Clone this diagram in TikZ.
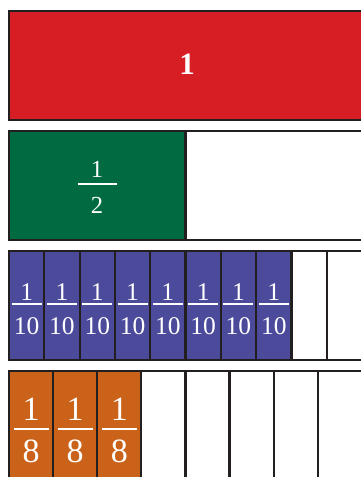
\documentclass[tikz,border=0pt]{standalone}
\usepackage{fontspec}
\setmainfont{Liberation Serif}
\usepackage{tikz}
\definecolor{edge}{HTML}{231F20}
\definecolor{wholered}{HTML}{D71E24}
\definecolor{halfgreen}{HTML}{006B41}
\definecolor{tenthblue}{HTML}{4B4A9B}
\definecolor{eighthorange}{HTML}{CB6219}

\begin{document}
\begin{tikzpicture}[x=1pt, y=-1pt,
  piece/.style={rectangle, draw=edge, line width=2.2pt, fill=#1, anchor=north west, outer sep=0pt, inner sep=0pt, minimum height=109pt},
  fracbar/.style={draw=white, line width=2pt},
  digit/.style={text=white, inner sep=0pt, anchor=base},
]
  \useasboundingbox (0,0) rectangle (361,477);
  \clip (0,0) rectangle (361,477);

  % Whole strip
  \node[piece=wholered, minimum width=353pt] (whole) at (9,11) {};
  \node[digit, anchor=center, font=\fontsize{31}{36}\selectfont\bfseries] (one) at (187,64.7) {1};

  % Halves
  \node[piece=halfgreen, minimum width=176.5pt] (h1) at (9,131) {};
  \node[piece=white, minimum width=176.5pt] (h2) at (h1.north east) {};
  \draw[fracbar] (77.5,184.3) -- (116.5,184.3);
  \node[digit, font=\fontsize{24.5}{28}\selectfont] (h1num) at (97,177.5) {1};
  \node[digit, font=\fontsize{24.5}{28}\selectfont] (h1den) at (97,213.5) {2};

  % Tenths
  \foreach \i in {1,...,8} {
    \pgfmathsetmacro{\cx}{9+35.3*(\i-0.5)}
    \node[piece=tenthblue, minimum width=35.3pt] (t\i) at ({9+35.3*(\i-1)},251) {};
    \draw[fracbar] (\cx-15,304.3) -- (\cx+15,304.3);
    \node[digit, font=\fontsize{25.5}{30}\selectfont] (t\i num) at (\cx,300.7) {1};
    \node[digit, font=\fontsize{25.5}{30}\selectfont] (t\i den) at (\cx,334) {10};
  }
  \foreach \i in {9,10}
    \node[piece=white, minimum width=35.3pt] (t\i) at ({9+35.3*(\i-1)},251) {};

  % Eighths
  \foreach \i in {1,...,3} {
    \pgfmathsetmacro{\cx}{9+44.1*(\i-0.5)}
    \node[piece=eighthorange, minimum width=44.1pt] (e\i) at ({9+44.1*(\i-1)},371) {};
    \draw[fracbar] (\cx-17.5,429) -- (\cx+17.5,429);
    \node[digit, font=\fontsize{34}{40}\selectfont] (e\i num) at (\cx,420.7) {1};
    \node[digit, font=\fontsize{34}{40}\selectfont] (e\i den) at (\cx,462.3) {8};
  }
  \foreach \i in {4,...,8}
    \node[piece=white, minimum width=44.1pt] (e\i) at ({9+44.1*(\i-1)},371) {};
\end{tikzpicture}
\end{document}
